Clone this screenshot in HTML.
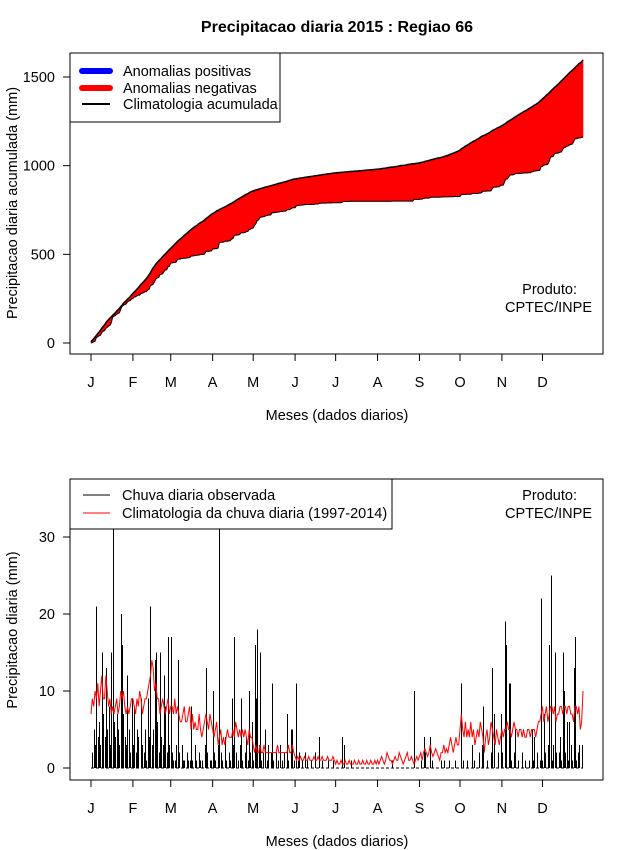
<!DOCTYPE html>
<html><head><meta charset="utf-8"><style>
body{margin:0;background:#fff;}
svg{display:block;font-family:"Liberation Sans",sans-serif;}
</style></head><body>
<svg id="chart" width="640" height="850" viewBox="0 0 640 850" xmlns="http://www.w3.org/2000/svg">
<rect width="640" height="850" fill="#fff"/>
<text x="337" y="32" text-anchor="middle" font-size="16" font-weight="bold">Precipitacao diaria 2015 : Regiao 66</text>
<g id="top"></g>
<g id="bot"></g>
</svg>
<script>
const months = ["J","F","M","A","M","J","J","A","S","O","N","D"];
const monthStartDays = [1,32,60,91,121,152,182,213,244,274,305,335];
const topTicks = [0,500,1000,1500];
const botTicks = [0,10,20,30];
const observedDaily = [
0,2,5,3,21,4,6,3,15,7,4,13,5,8,3,15,31,6,4,7,5,3,20,16,7,4,3,12,5,2,9,
3,8,2,5,4,0,9,3,2,5,1,9,4,21,3,5,14,15,6,2,15,4,3,12,8,2,17,3,
17,2,1,1,3,14,2,0,3,1,1,0,2,1,1,8,1,0,3,1,0,2,1,1,0,3,13,2,0,1,1,
10,2,1,0,3,31,2,1,0,4,1,0,2,1,9,3,17,2,0,1,3,9,1,0,2,4,1,10,2,6,
1,16,9,18,3,15,1,2,0,5,1,3,0,2,11,1,0,2,1,0,3,1,0,2,0,7,1,0,5,5,1,
0,11,1,2,0,1,0,2,0,1,0,0,1,0,0,2,0,0,4,0,1,0,0,0,1,0,0,0,1,0,
0,0,0,0,0,4,3,0,0,0,0,1,0,0,0,0,0,0,0,0,0,0,0,0,0,0,0,0,0,0,0,
0,0,0,0,0,0,0,0,0,0,0,1,0,0,0,0,0,0,0,0,0,0,0,0,0,0,0,10,0,0,0,
0,1,0,4,2,0,0,0,4,1,0,0,0,0,0,0,1,0,1,0,0,0,1,0,0,0,1,0,0,0,
0,11,1,0,0,1,0,0,0,3,1,0,0,0,2,0,3,8,0,0,1,0,0,2,13,7,0,0,2,0,7,
2,0,19,16,0,11,11,1,0,2,5,0,1,0,0,2,0,1,0,0,1,0,5,1,4,0,2,0,1,22,
1,7,2,0,3,16,25,1,3,15,2,0,2,4,1,15,10,2,6,1,6,3,1,13,17,1,2,3,0,3,0];
const climDaily = [
7,9,8,10,9,11,8,10,12,9,9,12,10,8,9,7,8,7,8,9,7,8,10,9,10,8,7,8,7,8,9,
9,8,7,9,8,10,9,7,8,9,9,10,11,12,14,13,10,11,9,9,7,8,9,8,7,8,9,7,
8,8,7,9,7,8,7,6,6,7,8,6,6,7,8,5,7,5,6,5,5,7,5,4,5,6,7,6,5,7,6,
5,4,5,6,3,4,5,3,4,3,4,5,4,4,4,5,4,6,5,4,5,4,5,4,5,4,3,5,4,4,
3,2,3,2,2,3,2,2,3,2,2,2,2,2,2,2,2,2,3,2,2,2,2,2,2,2,3,2,2,3,2,
1.5,1,1.5,1,1.5,1,1,1.5,1,1,1.5,1,1,1,1.5,1,1,1.5,1,1,1.5,1,1,1,1.5,1,1,1,1.5,1,
0.5,1,0.5,0.5,1,0.5,0.5,1,0.5,0.5,1,0.5,0.5,0.5,1,0.5,0.5,1,0.5,0.5,1,0.5,0.5,1,0.5,0.5,1,0.5,0.5,1,0.5,
1,0.5,1,1.5,1,0.5,1,2,1.5,1,1,0.5,1,1.5,1,1,2,1.5,1,0.5,1,1.5,2,1,1,1.5,1,0.5,1,1.5,1,
1.5,2,1,2,2.5,2,1.5,2,3,2,1.5,2,2.5,2,1.5,1,2,2,3,2,2.5,2,3,4,3,2,3,4,3,3,
5,7,5,4,6,4,5,4,6,4,5,3,4,5,4,6,5,4,2,4,5,3,4,6,5,4,3,5,4,3,4,
5,4,5,5,6,5,5,4,5,6,5,5,4,5,5,4,5,4,4,5,5,4,5,5,5,4,5,6,6,7,
8,6,7,8,6,7,8,8,7,8,6,7,7,8,8,7,8,8,7,8,8,7,7,6,8,8,7,8,5,6,10];

const NS="http://www.w3.org/2000/svg";
function mk(parent,tag,attrs){const e=document.createElementNS(NS,tag);for(const k in attrs)e.setAttribute(k,attrs[k]);parent.appendChild(e);return e;}
const xDay = d => 91 + (d-1)*(583-91)/364;
const yTop = v => 343 - v*(343-77)/1500;
const yBot = v => 768 - v*(768-537)/30;
const FS = 14.5;

function cumsum(a){let s=0;return a.map(v=>s+=v);}
const obsCum = cumsum(observedDaily), climCum = cumsum(climDaily);

function frame(g,top,bottom,ticks,yf,ylab,labY){
  const b=mk(g,'rect',{x:70,y:top,width:533,height:bottom-top,fill:'none',stroke:'#000','stroke-width':1});
  
  
  ticks.forEach(t=>{
    const y=yf(t);
    mk(g,'line',{x1:63,x2:70,y1:y,y2:y,stroke:'#000'});
    const tx=mk(g,'text',{x:55,y:y+5,'text-anchor':'end','font-size':FS});
    tx.textContent=t;
    
    
  });
  monthStartDays.forEach((d,i)=>{
    const x=xDay(d);
    mk(g,'line',{x1:x,x2:x,y1:bottom,y2:bottom+7,stroke:'#000'});
    const tx=mk(g,'text',{x:x,y:bottom+33,'text-anchor':'middle','font-size':FS});
    tx.textContent=months[i];
    
    
  });
  const xt=mk(g,'text',{x:337,y:bottom+66,'text-anchor':'middle','font-size':FS});
  xt.textContent='Meses (dados diarios)';
  
  
  const yt=mk(g,'text',{x:0,y:0,'text-anchor':'middle','font-size':FS,transform:`translate(17,${labY}) rotate(-90)`});
  yt.textContent=ylab;
  
  
}

// top panel
const gt=document.getElementById('top');
for(let i=0;i<364;i++){
  const d=i+1;
  const x0=xDay(d),x1=xDay(d+1);
  const pos=(obsCum[i]+obsCum[i+1])>(climCum[i]+climCum[i+1]);
  const p=mk(gt,'polygon',{points:`${x0},${yTop(obsCum[i])} ${x1},${yTop(obsCum[i+1])} ${x1},${yTop(climCum[i+1])} ${x0},${yTop(climCum[i])}`,fill:pos?'#0000ff':'#ff0000',stroke:pos?'#0000ff':'#ff0000','stroke-width':0.6});
  
  
}
const obsLine=mk(gt,'polyline',{points:obsCum.map((v,i)=>`${xDay(i+1)},${yTop(v)}`).join(' '),fill:'none',stroke:'#000','stroke-width':1});


const climLine=mk(gt,'polyline',{points:climCum.map((v,i)=>`${xDay(i+1)},${yTop(v)}`).join(' '),fill:'none',stroke:'#000','stroke-width':1.5});


frame(gt,53,354,topTicks,yTop,'Precipitacao diaria acumulada (mm)',203);

// top legend
const lg=mk(gt,'g',{});


mk(lg,'rect',{x:70,y:53,width:210,height:69,fill:'#fff',stroke:'#000'});
[['#0000ff',6,'Anomalias positivas',71],['#ff0000',6,'Anomalias negativas',88],['#000',2,'Climatologia acumulada',104]].forEach(([c,w,t,y])=>{
  const e=mk(lg,'g',{});
  
  
  mk(e,'line',{x1:82,x2:110,y1:y,y2:y,stroke:c,'stroke-width':w,'stroke-linecap':w>2?'round':'butt'});
  const tx=mk(e,'text',{x:123,y:y+5,'font-size':FS});tx.textContent=t;
});
const p1=mk(gt,'text',{x:577,y:294,'text-anchor':'end','font-size':FS});p1.textContent='Produto:';


const p2=mk(gt,'text',{x:592,y:312,'text-anchor':'end','font-size':FS});p2.textContent='CPTEC/INPE';



// bottom panel
const gb=document.getElementById('bot');
observedDaily.forEach((v,i)=>{
  const x=Math.round(xDay(i+1))+0.5;
  const b=mk(gb,'line',{x1:x,x2:x,y1:yBot(0),y2:yBot(v),stroke:'#000','stroke-width':1,'shape-rendering':'crispEdges'});
  
  
});
const zl=mk(gb,'line',{x1:xDay(1),x2:xDay(365),y1:yBot(0),y2:yBot(0),stroke:'#000','stroke-dasharray':'3,2'});


const cl=mk(gb,'polyline',{points:climDaily.map((v,i)=>`${xDay(i+1)},${yBot(v)}`).join(' '),fill:'none',stroke:'#ff0000','stroke-width':1});


frame(gb,479,780,botTicks,yBot,'Precipitacao diaria (mm)',630);
const lg2=mk(gb,'g',{});


mk(lg2,'rect',{x:70,y:479,width:322,height:50,fill:'#fff',stroke:'#000'});
[['#000','Chuva diaria observada',495],['#ff0000','Climatologia da chuva diaria (1997-2014)',513]].forEach(([c,t,y])=>{
  const e=mk(lg2,'g',{});
  
  
  mk(e,'line',{x1:83,x2:110,y1:y,y2:y,stroke:c,'stroke-width':1});
  const tx=mk(e,'text',{x:122,y:y+5,'font-size':FS});tx.textContent=t;
});
const p3=mk(gb,'text',{x:577,y:500,'text-anchor':'end','font-size':FS});p3.textContent='Produto:';


const p4=mk(gb,'text',{x:592,y:518,'text-anchor':'end','font-size':FS});p4.textContent='CPTEC/INPE';


</script>
</body></html>
